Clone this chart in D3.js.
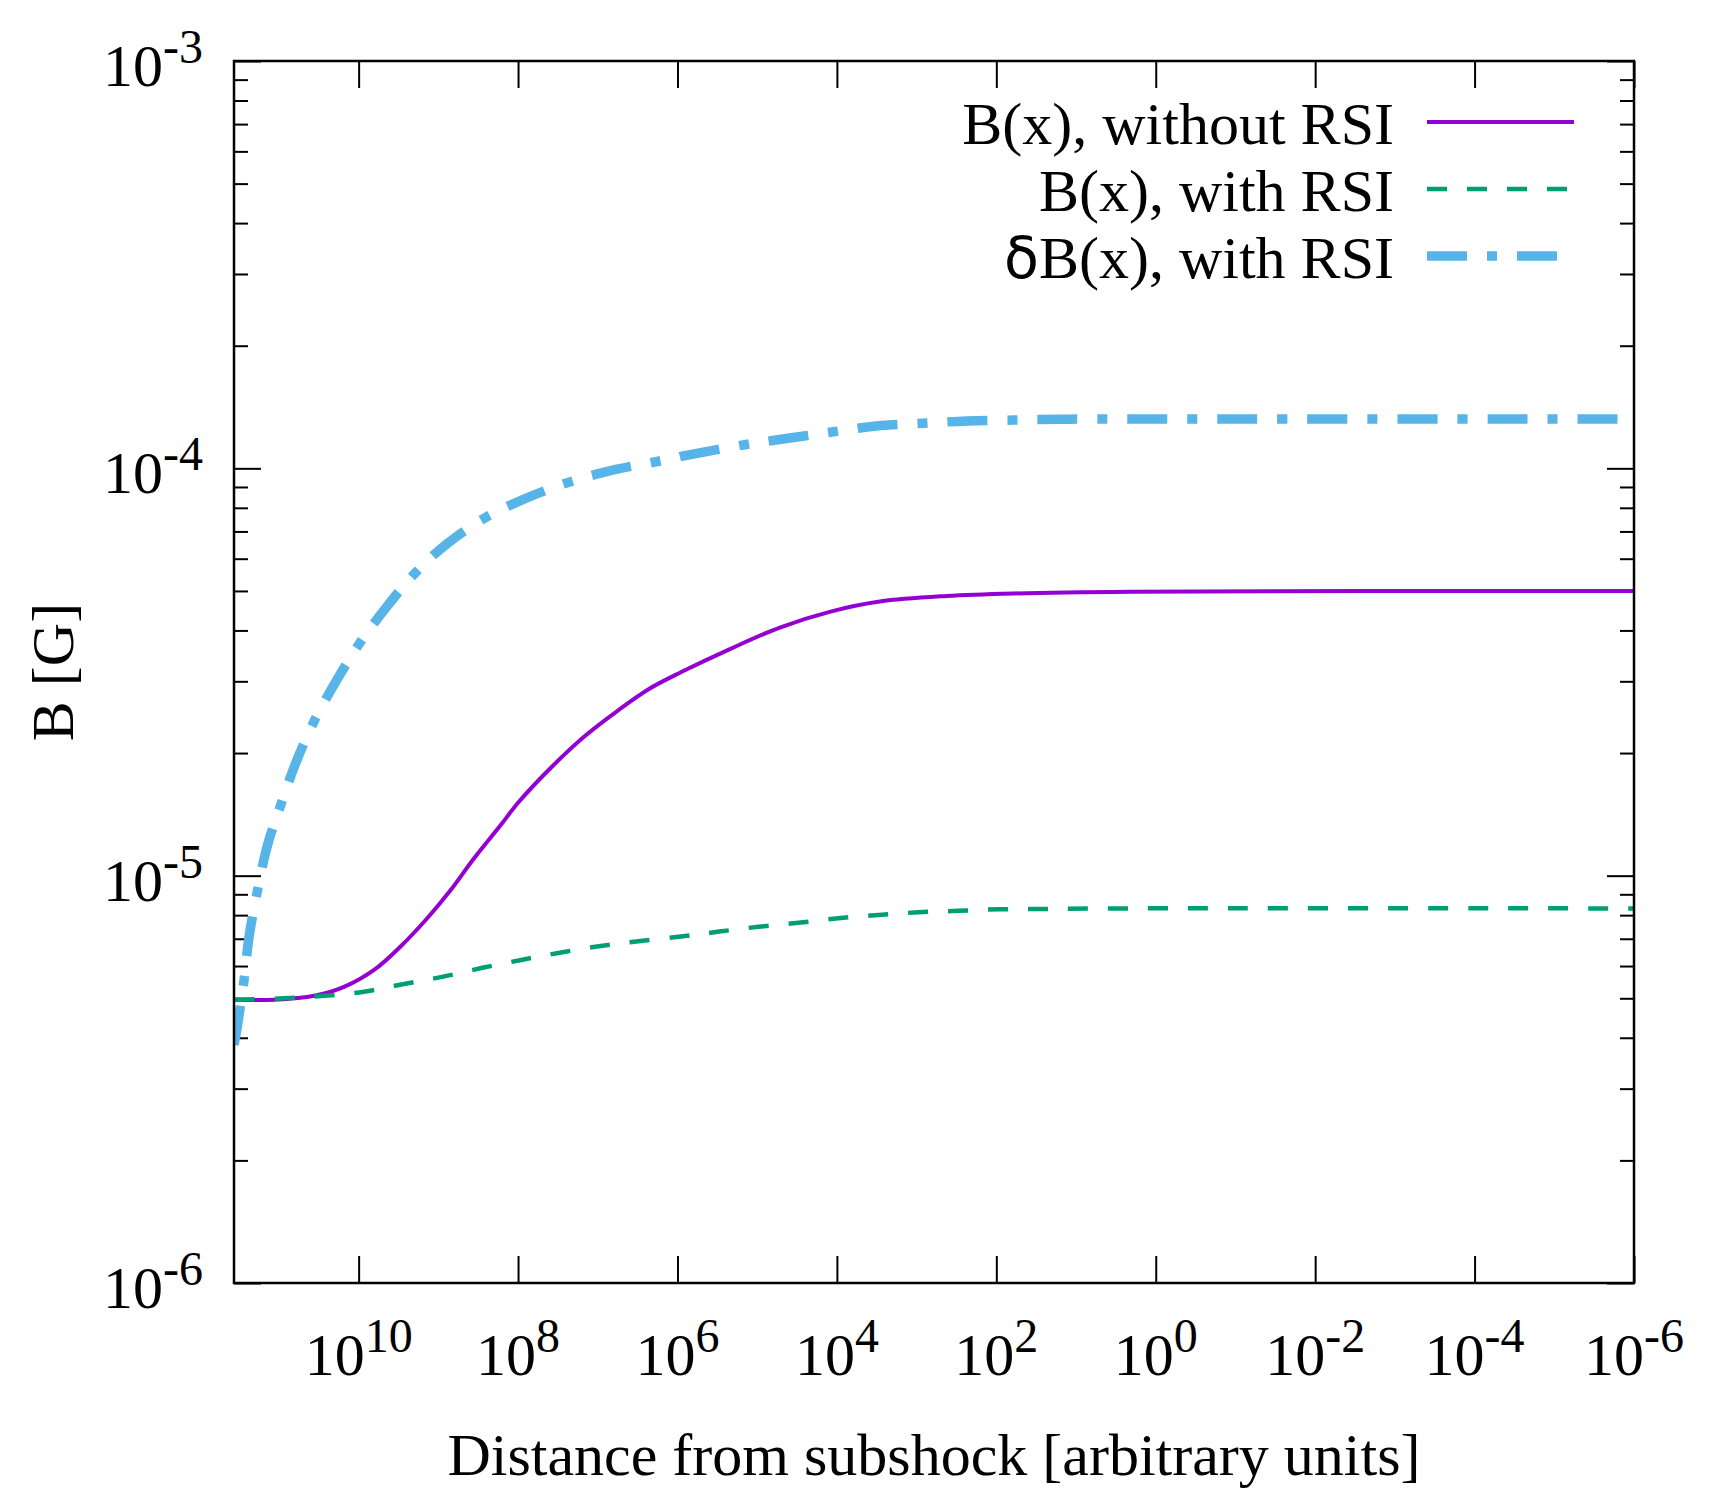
<!DOCTYPE html>
<html>
<head>
<meta charset="utf-8">
<script src="https://cdn.jsdelivr.net/npm/d3@7"></script>
<style>
  body { margin: 0; background: #fff; }
  text { font-family: "Liberation Serif", "Times New Roman", serif; fill: #000; }
</style>
</head>
<body>
<div id="chart"></div>
<script>
// values: distance from subshock (arb. units) -> B [G]
const xMax = 3.66e11;

const distNoRsi = [3.66e11, 1.15e11, 3.6e10, 1.5e10, 6.4e9, 3.0e9, 1.37e9, 7.0e8, 3.6e8, 1.65e8,
  1.0e8, 3.9e7, 1.5e7, 5.7e6, 2.2e6, 8.7e5, 2.2e5, 5.2e4, 1.2e4, 2.9e3, 420, 61, 2.1, 1e-6];
const bNoRsi = [4.96e-6, 4.96e-6, 5.07e-6, 5.34e-6, 5.87e-6, 6.69e-6, 7.87e-6, 9.22e-6, 1.10e-5, 1.331e-5,
  1.51e-5, 1.838e-5, 2.19e-5, 2.536e-5, 2.884e-5, 3.17e-5, 3.60e-5, 4.066e-5, 4.45e-5, 4.71e-5, 4.86e-5, 4.93e-5, 4.98e-5, 5.0e-5];

const distRsi = [3.66e11, 8.6e10, 2.7e10, 8.6e9, 2.7e9, 8.7e8, 2.8e8, 9.1e7, 3.0e7, 9.2e6, 2.9e6,
  8.0e5, 3.0e5, 9.7e4, 3.05e4, 9.6e3, 3.0e3, 950, 300, 94, 30, 3, 1e-6];
const bRsi = [4.96e-6, 5.0e-6, 5.07e-6, 5.19e-6, 5.42e-6, 5.65e-6, 5.94e-6, 6.21e-6, 6.47e-6, 6.72e-6, 6.91e-6,
  7.11e-6, 7.29e-6, 7.49e-6, 7.66e-6, 7.86e-6, 8.01e-6, 8.13e-6, 8.20e-6, 8.27e-6, 8.28e-6, 8.31e-6, 8.31e-6];

const distDelta = [3.66e11, 3.33e11, 2.74e11, 2.37e11, 1.87e11, 1.40e11, 9.5e10, 6.15e10, 3.63e10, 1.94e10,
  9.9e9, 4.57e9, 1.96e9, 7.7e8, 2.6e8, 8.0e7, 2.4e7, 6.9e6, 1.87e6, 9.3e5, 1.5e5, 4.1e4, 1.1e4, 3.2e3,
  840, 235, 61, 17.5, 2.1, 1e-6];
const dbRsi = [3.84e-6, 4.26e-6, 5.54e-6, 7.08e-6, 9.13e-6, 1.183e-5, 1.49e-5, 1.89e-5, 2.39e-5, 2.99e-5,
  3.70e-5, 4.54e-5, 5.53e-5, 6.54e-5, 7.56e-5, 8.44e-5, 9.22e-5, 9.87e-5, 1.038e-4, 1.068e-4, 1.141e-4, 1.185e-4, 1.23e-4, 1.27e-4,
  1.29e-4, 1.307e-4, 1.314e-4, 1.32e-4, 1.321e-4, 1.321e-4];

const xTickExps = [10, 8, 6, 4, 2, 0, -2, -4, -6];
const yTickExps = [-3, -4, -5, -6];
const legendLabels = ["B(x), without RSI", "B(x), with RSI", "B(x), with RSI"];

// Set the dimensions and margins of the graph
const margin = {top: 61, right: 91, bottom: 217, left: 234};
const W = 1725, H = 1500;
const width = W - margin.left - margin.right;
const height = H - margin.top - margin.bottom;

const svg = d3.select("#chart")
  .append("svg")
  .attr("width", W)
  .attr("height", H)
  .append("g")
  .attr("transform", `translate(${margin.left},${margin.top})`);

const x = d3.scaleLog().domain([xMax, 1e-6]).range([0, width]);
const y = d3.scaleLog().domain([1e-6, 1e-3]).range([height, 0]);

const xTickVals = xTickExps.map(e => Math.pow(10, e));
const yTickVals = yTickExps.map(e => Math.pow(10, e));
const yMinorVals = [];
[-6, -5, -4].forEach(e => { for (let k = 2; k <= 9; k++) yMinorVals.push(k * Math.pow(10, e)); });

// ticks (inward, mirrored)
function tickAxis(axis, tx, ty, size, vals) {
  svg.append("g")
    .attr("transform", `translate(${tx},${ty})`)
    .call(axis.tickValues(vals).tickSizeInner(-size).tickSizeOuter(0).tickFormat(""))
    .call(g => g.select(".domain").remove())
    .call(g => g.selectAll("line").attr("stroke", "#000").attr("stroke-width", 2));
}
tickAxis(d3.axisBottom(x), 0, height, 27, xTickVals);
tickAxis(d3.axisTop(x), 0, 0, 27, xTickVals);
tickAxis(d3.axisLeft(y), 0, 0, 27, yTickVals);
tickAxis(d3.axisRight(y), width, 0, 27, yTickVals);
tickAxis(d3.axisLeft(y), 0, 0, 14, yMinorVals);
tickAxis(d3.axisRight(y), width, 0, 14, yMinorVals);

// tick labels with superscript exponents
function powLabel(sel, e) {
  sel.append("tspan").text("10");
  sel.append("tspan").attr("dy", -23).style("font-size", "48px").text(e);
}
xTickExps.forEach(e => {
  const t = svg.append("text")
    .attr("x", x(Math.pow(10, e)))
    .attr("y", height + 92)
    .attr("text-anchor", "middle")
    .style("font-size", "60px");
  powLabel(t, e);
});
yTickExps.forEach(e => {
  const t = svg.append("text")
    .attr("x", -31)
    .attr("y", y(Math.pow(10, e)) + 25)
    .attr("text-anchor", "end")
    .style("font-size", "60px");
  powLabel(t, e);
});

// axis titles
svg.append("text")
  .attr("x", width / 2)
  .attr("y", height + 192)
  .attr("text-anchor", "middle")
  .style("font-size", "60px")
  .text("Distance from subshock [arbitrary units]");
svg.append("text")
  .attr("transform", `translate(${73 - margin.left},${height / 2}) rotate(-90)`)
  .attr("text-anchor", "middle")
  .style("font-size", "60px")
  .text("B [G]");

// curves
svg.append("clipPath").attr("id", "plotclip")
  .append("rect").attr("width", width).attr("height", height);

const line = d3.line()
  .x(d => x(d[0]))
  .y(d => y(d[1]))
  .curve(d3.curveCatmullRom.alpha(0.5));

const series = [
  {xs: distNoRsi, ys: bNoRsi, color: "#9400D3", w: 4, dash: null},
  {xs: distRsi, ys: bRsi, color: "#009E73", w: 4.5, dash: [20, 20], endDash: 6},
  {xs: distDelta, ys: dbRsi, color: "#56B4E9", w: 9.5, dash: [40, 20, 10, 20], endDash: 56.7}
];

series.forEach(s => {
  const pts = s.xs.map((v, i) => [v, s.ys[i]]);
  const p = svg.append("path")
    .datum(pts)
    .attr("clip-path", "url(#plotclip)")
    .attr("d", line)
    .attr("fill", "none")
    .attr("stroke", s.color)
    .attr("stroke-width", s.w);
  if (s.dash) {
    // line up the dash pattern with the flat end of the curve
    const period = d3.sum(s.dash);
    const L = p.node().getTotalLength();
    const off = (period - ((L - s.endDash) % period)) % period;
    p.attr("stroke-dasharray", s.dash.join(",")).attr("stroke-dashoffset", off);
  }
});

// frame
svg.append("rect")
  .attr("width", width)
  .attr("height", height)
  .attr("fill", "none")
  .attr("stroke", "#000")
  .attr("stroke-width", 2.5);

// legend
const legend = svg.selectAll(".legend")
  .data(series)
  .enter().append("g")
  .attr("class", "legend")
  .attr("transform", (d, i) => `translate(0,${61 + i * 67})`);

legend.append("line")
  .attr("x1", 1193)
  .attr("x2", 1340)
  .attr("stroke", d => d.color)
  .attr("stroke-width", d => d.w)
  .attr("stroke-dasharray", d => d.dash ? d.dash.join(",") : null);

legend.append("text")
  .attr("x", 1160)
  .attr("y", 22)
  .attr("text-anchor", "end")
  .style("font-size", "60px")
  .each(function(d, i) {
    const t = d3.select(this);
    if (i === 2) {
      t.append("tspan").style("font-family", "'DejaVu Sans', sans-serif").style("font-size", "57px").text("δ");
    }
    t.append("tspan").text(legendLabels[i]);
  });
</script>
</body>
</html>
